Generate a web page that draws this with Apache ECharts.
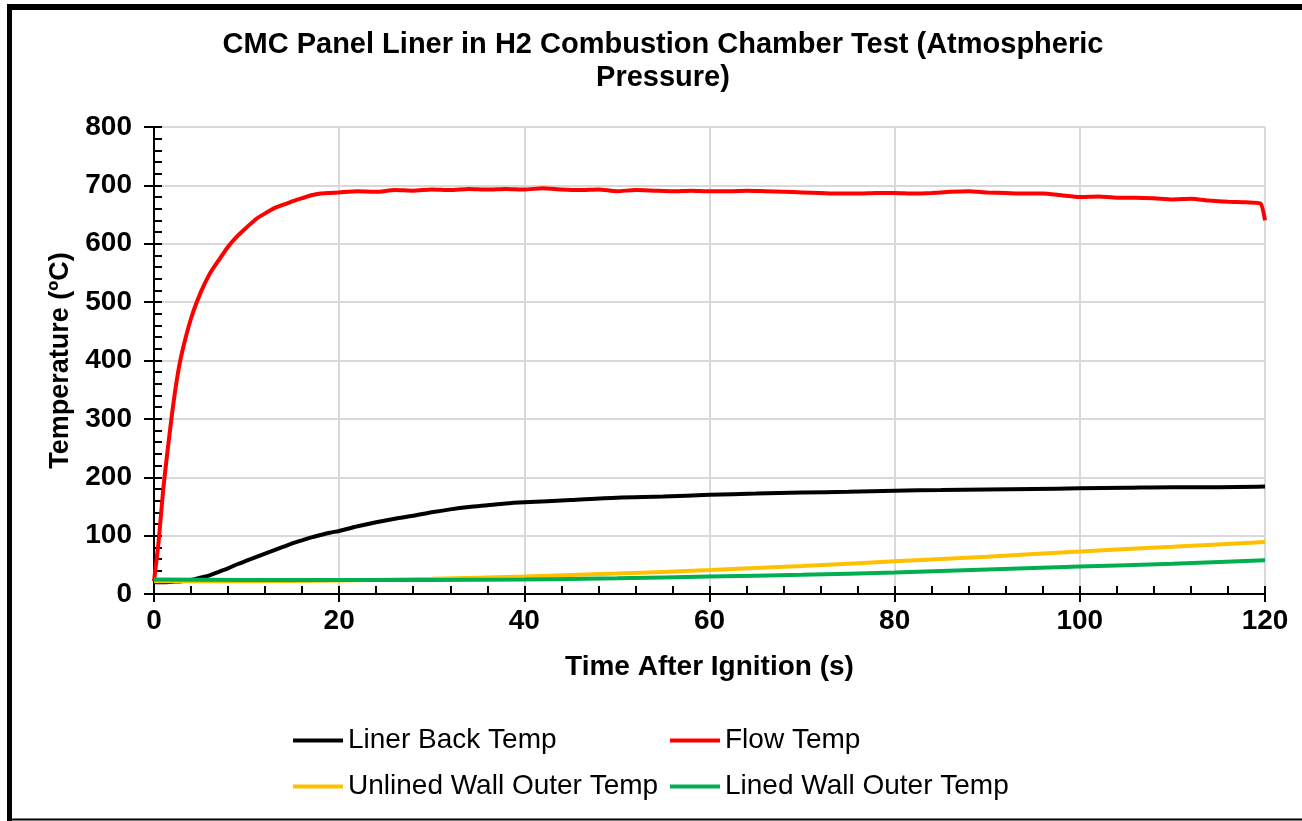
<!DOCTYPE html>
<html>
<head>
<meta charset="utf-8">
<script src="https://cdn.jsdelivr.net/npm/echarts@6/dist/echarts.min.js"></script>
<style>
  html, body { margin: 0; padding: 0; background: #fff; }
  #chart { width: 1302px; height: 821px; }
</style>
</head>
<body>
<div id="chart"></div>
<script>
// time (s) and temperature (ºC)
var flowTime = [0, 0.5, 1, 1.5, 2, 2.5, 3, 4, 5, 6, 7, 8, 9, 10, 11, 12, 13, 14, 15, 16, 17, 18, 19, 20,
  22, 24, 26, 28, 30, 32, 34, 36, 38, 40, 42, 44, 46, 48, 50, 52, 54, 56, 58, 60, 62, 64, 66, 68, 70,
  72, 74, 76, 78, 80, 82, 84, 86, 88, 90, 92, 94, 96, 98, 100, 102, 104, 106, 108, 110, 112, 114, 116, 118, 119.5, 120];
var flowTemp = [22, 90, 180, 250, 315, 370, 412, 472, 515, 548, 572, 595, 613, 628, 642, 652, 661, 667, 673, 678, 683, 686, 687, 688,
  690, 689, 692, 691, 693, 692, 694, 693, 694, 693, 695, 693, 692, 693, 690, 692, 691, 690, 691, 690, 690, 691, 690, 689, 688,
  687, 686, 686, 687, 687, 686, 687, 689, 690, 688, 687, 686, 686, 683, 680, 681, 679, 679, 678, 676, 677, 674, 672, 671, 669, 640];

var linerTime = [0, 1, 2, 3, 4, 5, 6, 7, 8, 9, 10, 11, 12, 13, 14, 15, 16, 17, 18, 19, 20, 22, 24, 26, 28, 30,
  32, 34, 36, 38, 40, 45, 50, 55, 60, 65, 70, 75, 80, 85, 90, 95, 100, 105, 110, 115, 120];
var linerTemp = [20, 20, 21, 22, 24, 28, 32, 38, 44, 51, 57, 63, 69, 75, 81, 87, 92, 97, 101, 105, 108, 116, 123, 129, 134, 140,
  145, 149, 152, 155, 157, 161, 165, 167, 170, 172, 174, 175, 177, 178, 179, 180, 181, 182, 183, 183, 184];

var unlinedTime = [0, 10, 20, 30, 40, 50, 60, 70, 80, 90, 100, 110, 120];
var unlinedTemp = [22, 22, 23, 26, 30, 35, 41, 48, 56, 64, 73, 81, 89];

var linedTime = [0, 10, 20, 30, 40, 50, 60, 70, 80, 90, 100, 110, 120];
var linedTemp = [25, 24, 24, 24, 25, 27, 30, 33, 37, 42, 47, 52, 58];

var seriesNames = ['Liner Back Temp', 'Flow Temp', 'Unlined Wall Outer Temp', 'Lined Wall Outer Temp'];
var seriesColors = ['#000000', '#ff0000', '#ffc000', '#00b050'];

function pairs(t, v) {
  var out = [];
  for (var i = 0; i < t.length; i++) out.push([t[i], v[i]]);
  return out;
}

var font = 'Arial, "Liberation Sans", sans-serif';
var chart = echarts.init(document.getElementById('chart'));

var lineSeries = function (i, data, smooth) {
  return {
    name: seriesNames[i],
    type: 'line',
    data: data,
    showSymbol: false,
    smooth: smooth,
    lineStyle: { color: seriesColors[i], width: 4 },
    itemStyle: { color: seriesColors[i] },
    animation: false
  };
};

var legendBase = {
  orient: 'vertical',
  top: 720,
  icon: 'rect',
  itemWidth: 50,
  itemHeight: 4,
  itemGap: 15,
  textStyle: { fontFamily: font, fontSize: 28, color: '#000', lineHeight: 31 }
};

chart.setOption({
  backgroundColor: '#fff',
  title: {
    text: 'CMC Panel Liner in H2 Combustion Chamber Test (Atmospheric\nPressure)',
    left: 658,
    top: 23,
    textAlign: 'center',
    textStyle: { fontFamily: font, fontSize: 29, fontWeight: 'bold', color: '#000', lineHeight: 33 }
  },
  legend: [
    Object.assign({}, legendBase, { left: 288, data: [seriesNames[0], seriesNames[2]] }),
    Object.assign({}, legendBase, { left: 665, data: [seriesNames[1], seriesNames[3]] })
  ],
  grid: { left: 154, right: 37, top: 127, bottom: 227 },
  xAxis: [{
    type: 'value',
    min: 0, max: 120, interval: 20,
    name: 'Time After Ignition (s)',
    nameLocation: 'middle',
    nameGap: 59,
    nameTextStyle: { fontFamily: font, fontSize: 28, fontWeight: 'bold', color: '#000' },
    axisLine: { show: true, lineStyle: { color: '#000', width: 2 } },
    axisTick: { show: true, inside: true, length: 8, lineStyle: { color: '#000', width: 2 } },
    minorTick: { show: true, splitNumber: 5, length: 8, lineStyle: { color: '#000', width: 2 } },
    axisLabel: { margin: 13, fontFamily: font, fontSize: 28, fontWeight: 'bold', color: '#000' },
    splitLine: { show: true, lineStyle: { color: '#d9d9d9', width: 2 } }
  }, {
    type: 'value',
    min: 0, max: 120, interval: 20,
    position: 'bottom',
    axisLine: { show: false },
    axisTick: { show: true, inside: false, length: 8, lineStyle: { color: '#000', width: 2 } },
    axisLabel: { show: false },
    splitLine: { show: false }
  }],
  yAxis: [{
    type: 'value',
    min: 0, max: 800, interval: 100,
    name: 'Temperature (ºC)',
    nameLocation: 'middle',
    nameGap: 80,
    nameTextStyle: { fontFamily: font, fontSize: 27, fontWeight: 'bold', color: '#000' },
    axisLine: { show: true, lineStyle: { color: '#000', width: 2 } },
    axisTick: { show: true, inside: true, length: 8, lineStyle: { color: '#000', width: 2 } },
    minorTick: { show: true, splitNumber: 5, length: 8, lineStyle: { color: '#000', width: 2 } },
    axisLabel: { margin: 22, fontFamily: font, fontSize: 28, fontWeight: 'bold', color: '#000' },
    splitLine: { show: true, lineStyle: { color: '#d9d9d9', width: 2 } }
  }, {
    type: 'value',
    min: 0, max: 800, interval: 100,
    position: 'left',
    axisLine: { show: false },
    axisTick: { show: true, inside: false, length: 10, lineStyle: { color: '#000', width: 2 } },
    axisLabel: { show: false },
    splitLine: { show: false }
  }],
  series: [
    lineSeries(0, pairs(linerTime, linerTemp), 0.3),
    lineSeries(1, pairs(flowTime, flowTemp), 0.2),
    lineSeries(2, pairs(unlinedTime, unlinedTemp), 0.3),
    lineSeries(3, pairs(linedTime, linedTemp), 0.3)
  ],
  // frame around the chart
  graphic: [
    { type: 'line', shape: { x1: 9.5, y1: 4, x2: 9.5, y2: 821 }, style: { stroke: '#000', lineWidth: 5 }, silent: true },
    { type: 'line', shape: { x1: 7, y1: 7, x2: 1302, y2: 7 }, style: { stroke: '#000', lineWidth: 6 }, silent: true },
    { type: 'line', shape: { x1: 7, y1: 819.5, x2: 1302, y2: 819.5 }, style: { stroke: '#000', lineWidth: 2 }, silent: true }
  ]
});
</script>
</body>
</html>
